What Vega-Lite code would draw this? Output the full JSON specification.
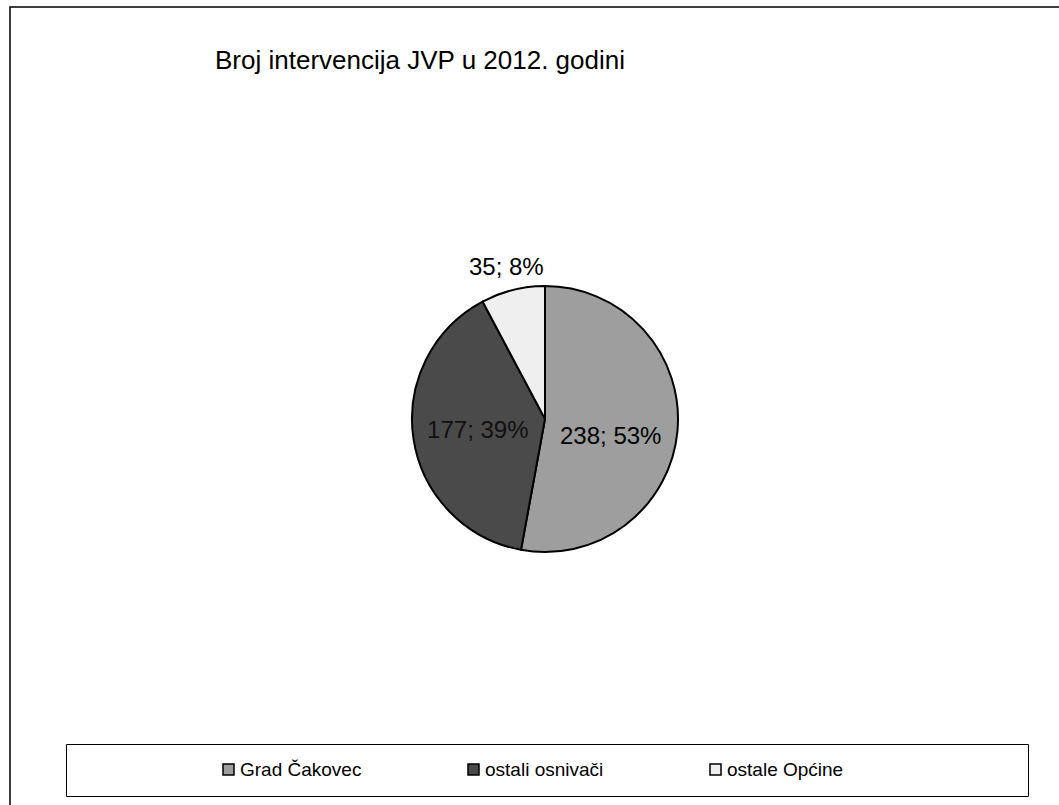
{
  "$schema": "https://vega.github.io/schema/vega-lite/v6.json",
  "autosize": {"type": "none"},
  "padding": {"left": 10, "top": 7, "right": 0, "bottom": 0},
  "width": 1070,
  "height": 824,
  "background": "white",
  "view": {"stroke": "black", "strokeWidth": 1.5},
  "title": {
    "text": "Broj intervencija JVP u 2012. godini",
    "anchor": "start",
    "frame": "group",
    "orient": "top",
    "offset": 0,
    "baseline": "alphabetic",
    "dx": 205,
    "dy": 88,
    "font": "Liberation Sans",
    "fontSize": 26,
    "fontWeight": "normal",
    "color": "black"
  },
  "data": {
    "values": [
      {"category": "Grad Čakovec", "value": 238, "label": "238; 53%"},
      {"category": "ostali osnivači", "value": 177, "label": "177; 39%"},
      {"category": "ostale Općine", "value": 35, "label": "35; 8%"}
    ]
  },
  "encoding": {
    "theta": {"field": "value", "type": "quantitative", "stack": true},
    "order": {"field": "value", "type": "quantitative", "sort": "descending"}
  },
  "layer": [
    {
      "mark": {"type": "arc", "outerRadius": 133, "stroke": "black", "strokeWidth": 2},
      "encoding": {
        "color": {
          "field": "category",
          "type": "nominal",
          "scale": {
            "domain": ["Grad Čakovec", "ostali osnivači", "ostale Općine"],
            "range": ["#9e9e9e", "#4a4a4a", "#efefef"]
          },
          "legend": {
            "orient": "none",
            "legendX": 56,
            "legendY": 737,
            "direction": "horizontal",
            "title": null,
            "strokeColor": "black",
            "padding": 16,
            "symbolOffset": 137,
            "columnPadding": -35,
            "gridAlign": "none",
            "labelFont": "Liberation Sans",
            "labelFontSize": 19,
            "labelColor": "black",
            "labelOffset": 2,
            "labelLimit": 600,
            "symbolType": "square",
            "symbolSize": 121,
            "symbolStrokeColor": "black",
            "symbolStrokeWidth": 1.5,
            "labelExpr": "datum.label == 'ostale Općine' ? pad(datum.label, 25, '\u2800') : datum.label"
          }
        }
      }
    },
    {
      "mark": {"type": "text", "radius": 66, "dy": 12, "font": "Liberation Sans", "fontSize": 24, "color": "black"},
      "encoding": {
        "text": {"condition": {"test": "datum.value == 238", "field": "label"}, "value": ""}
      }
    },
    {
      "mark": {"type": "text", "radius": 68, "dy": 2, "font": "Liberation Sans", "fontSize": 24, "color": "#111111"},
      "encoding": {
        "text": {"condition": {"test": "datum.value == 177", "field": "label"}, "value": ""}
      }
    },
    {
      "mark": {"type": "text", "radius": 160, "dy": 4, "font": "Liberation Sans", "fontSize": 24, "color": "black"},
      "encoding": {
        "text": {"condition": {"test": "datum.value == 35", "field": "label"}, "value": ""}
      }
    }
  ],
  "config": {
    "view": {"stroke": "black", "strokeWidth": 1.5}
  }
}
